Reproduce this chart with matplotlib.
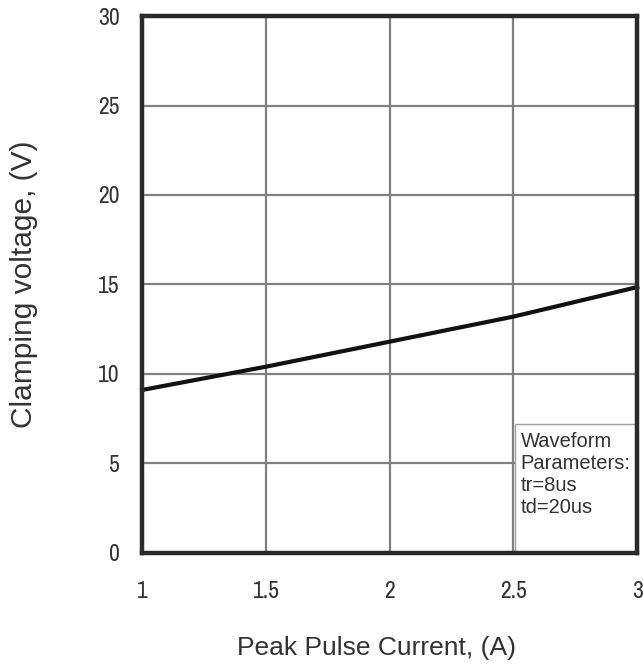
import matplotlib
matplotlib.use("Agg")
import matplotlib.pyplot as plt
from matplotlib import font_manager as fm
from matplotlib.patches import Rectangle

current = [1.0, 1.5, 2.0, 2.5, 3.0]
voltage = [9.1, 10.4, 11.8, 13.2, 14.85]
xticks = [1, 1.5, 2, 2.5, 3]
xticklabels = ["1", "1.5", "2", "2.5", "3"]
yticks = [0, 5, 10, 15, 20, 25, 30]
ytick_labels = ["0", "5", "10", "15", "20", "25", "30"]
note = "Waveform\nParameters:\ntr=8us\ntd=20us"

available = {f.name for f in fm.fontManager.ttflist}
narrow = None
for cand in ["Liberation Sans Narrow", "Arial Narrow", "Archivo Narrow",
             "PT Sans Narrow", "Roboto Condensed"]:
    if cand in available:
        narrow = cand
        break
regular = ["Liberation Sans", "DejaVu Sans"]
narrow_fam = [narrow, "DejaVu Sans"] if narrow else regular
tick_size = 17 if narrow else 14

plt.rcParams['font.family'] = regular
TXT = "#333333"

fig = plt.figure(figsize=(6.43, 6.70), dpi=100)
ax = fig.add_axes([0.221, 0.175, 0.770, 0.801])
ax.set_xlim(1, 3)
ax.set_ylim(0, 30)
ax.set_xticks(xticks)
ax.set_xticklabels(xticklabels, family=narrow_fam, fontsize=tick_size, color=TXT)
ax.set_yticks(yticks)
ax.set_yticklabels(ytick_labels, family=narrow_fam, fontsize=tick_size, color=TXT)
ax.grid(True, color="#808080", linewidth=1.6)
ax.set_axisbelow(True)
for s in ax.spines.values():
    s.set_linewidth(3.2)
    s.set_color("#2a2a2a")
    s.set_zorder(10)
ax.tick_params(axis="both", length=0)
ax.tick_params(axis="x", pad=20)
ax.tick_params(axis="y", pad=16)

ax.plot(current, voltage, color="#111111", linewidth=3.0, zorder=5, clip_on=False)

# white parameter box covering the grid in the lower-right corner
ax.add_patch(Rectangle((2.505, 0), 0.495, 7.2, facecolor="white", edgecolor="#a0a0a0",
                       linewidth=1.0, zorder=4))
ax.text(2.53, 6.75, note, fontsize=14.5, color=TXT, va="top", ha="left",
        linespacing=1.2, zorder=6, family=regular)

ax.set_xlabel("Peak Pulse Current, (A)", fontsize=19, color=TXT)
ax.xaxis.set_label_coords(0.473, -0.155)
ax.set_ylabel("Clamping voltage, (V)", fontsize=21.5, color=TXT)
ax.yaxis.set_label_coords(-0.21, 0.5)

fig.savefig("out.png", dpi=100, facecolor="white")
